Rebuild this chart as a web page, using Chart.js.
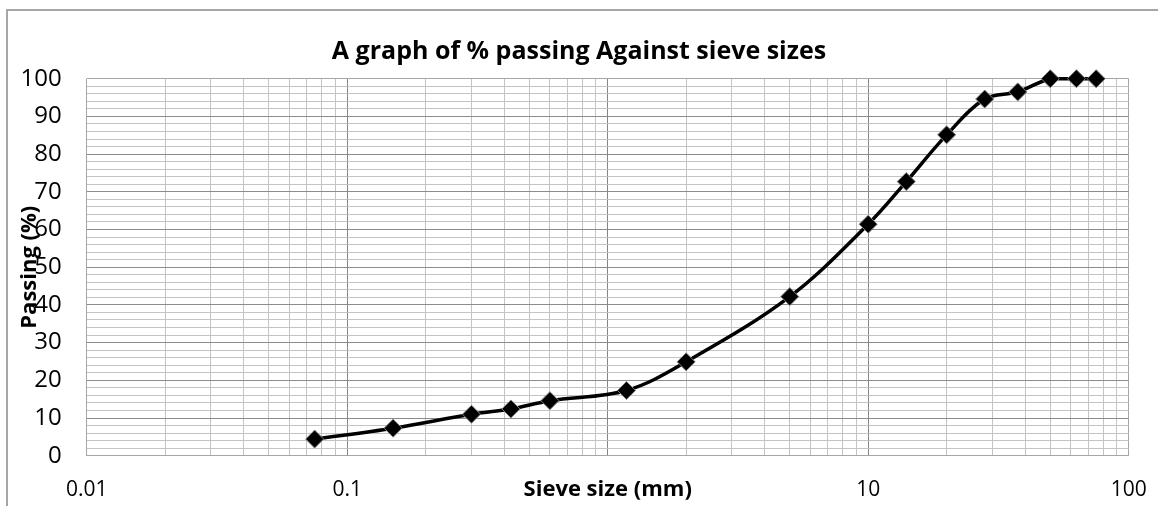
<!DOCTYPE html>
<html>
<head>
<meta charset="utf-8">
<title>Sieve analysis</title>
<script src="https://cdn.jsdelivr.net/npm/chart.js@4.4.1/dist/chart.umd.min.js"></script>
<style>
    body { margin: 0; background: #fff; }
    .wrap { position: relative; width: 1158px; height: 506px; overflow: hidden; }
    .frame {
        position: absolute; left: 6px; top: 9px; right: -10px; bottom: -10px;
        border-left: 2px solid #a6a6a6; border-top: 2px solid #a6a6a6;
    }
    canvas { position: absolute; left: 0; top: 0; }
</style>
</head>
<body>
<div class="wrap">
    <div class="frame"></div>
    <canvas id="sieveChart" width="1158" height="506"></canvas>
</div>
<script>
/* ========= DATA ========= */

// sieve opening (mm)
const sieveSizes = [0.075, 0.15, 0.3, 0.425, 0.6, 1.18, 2, 5, 10, 14, 20, 28, 37.5, 50, 63, 75];

// cumulative % passing
const percentPassing = [4.4, 7.3, 11.0, 12.4, 14.6, 17.3, 24.9, 42.2, 61.4, 72.7, 85.1, 94.6, 96.5, 100, 100, 100];

// labelled ticks ("1" sits under the axis title in the original)
const xTickLabels = [0.01, 0.1, 10, 100];
const yTickLabels = [0, 10, 20, 30, 40, 50, 60, 70, 80, 90, 100];

// grid: every 1..9 inside each decade, every 2 % on y
const decades = [0.01, 0.1, 1, 10];
const xGridValues = [];
decades.forEach(d => {
    for (let m = 1; m <= 9; m++) xGridValues.push(+(d * m).toPrecision(6));
});
xGridValues.push(100);

const yGridValues = [];
for (let v = 0; v <= 100; v += 2) yGridValues.push(v);


/* ========= HELPERS ========= */

function isDecade(v) {
    const l = Math.log10(v);
    return Math.abs(l - Math.round(l)) < 1e-6;
}

function hasLabel(list, v) {
    return list.some(t => Math.abs(t - v) < 1e-9);
}

Chart.defaults.font.family = "'Open Sans', sans-serif";
Chart.defaults.color = "#000";


/* ========= CHART ========= */

const ctx = document.getElementById("sieveChart");

new Chart(ctx, {

    type: "scatter",

    data: {
        datasets: [{
            data: sieveSizes.map((s, i) => ({ x: s, y: percentPassing[i] })),
            showLine: true,
            borderColor: "#000",
            borderWidth: 3.5,
            tension: 0.35,
            pointStyle: "rectRot",
            pointRadius: 9,
            pointBackgroundColor: "#000",
            pointBorderColor: "#7f7f7f",
            pointBorderWidth: 1,
            clip: false
        }]
    },

    options: {

        responsive: false,
        animation: false,

        layout: {
            padding: 0
        },

        plugins: {
            legend: { display: false },
            tooltip: { enabled: false },
            title: {
                display: true,
                text: "A graph of % passing Against sieve sizes",
                color: "#000",
                font: { size: 25, weight: "bold" },
                padding: { top: 37, bottom: 11.7 }
            }
        },

        scales: {

            x: {
                type: "logarithmic",
                min: 0.01,
                max: 100,
                afterBuildTicks: scale => {
                    scale.ticks = xGridValues.map(v => ({ value: v }));
                },
                afterFit: scale => {
                    scale.height = 50.3;
                    // keep the plot edges where the original has them
                    scale.paddingLeft = 0;
                    scale.paddingRight = 29.3;
                },
                ticks: {
                    autoSkip: false,
                    maxRotation: 0,
                    padding: 22,
                    font: { size: 21 },
                    callback: v => hasLabel(xTickLabels, v) ? String(v) : ""
                },
                grid: {
                    drawTicks: false,
                    lineWidth: 1,
                    color: c => {
                        const v = c.tick.value;
                        if (v <= 0.01 || v >= 100) return "#a6a6a6";
                        return isDecade(v) ? "#868686" : "#c4c4c4";
                    }
                },
                border: { display: false },
                title: {
                    display: true,
                    text: "Sieve size (mm)",
                    font: { size: 22, weight: "bold" },
                    padding: { top: 0, bottom: 2.8 }
                }
            },

            y: {
                min: 0,
                max: 100,
                afterBuildTicks: scale => {
                    scale.ticks = yGridValues.map(v => ({ value: v }));
                },
                afterFit: scale => { scale.width = 86.7; },
                ticks: {
                    autoSkip: false,
                    padding: 25,
                    font: { size: 24 },
                    callback: v => hasLabel(yTickLabels, v) ? String(v) : ""
                },
                grid: {
                    drawTicks: false,
                    lineWidth: 1,
                    color: c => {
                        const v = c.tick.value;
                        if (v === 0 || v === 100) return "#a6a6a6";
                        return v % 10 === 0 ? "#8c8c8c" : "#c4c4c4";
                    }
                },
                border: { display: false },
                title: {
                    display: true,
                    text: "Passing (%)",
                    font: { size: 22, weight: "bold" },
                    padding: { top: 16.3, bottom: 0 }
                }
            }
        }
    }
});
</script>
</body>
</html>
